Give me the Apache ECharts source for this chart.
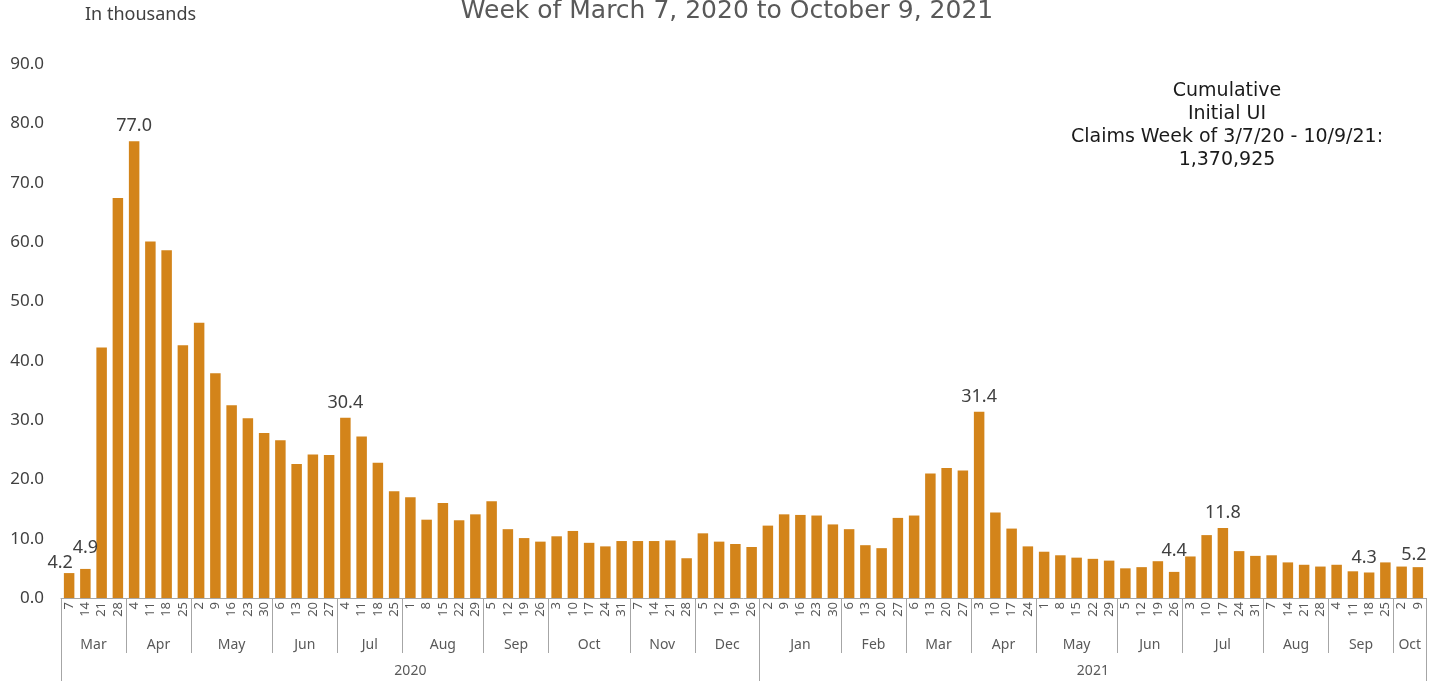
<!DOCTYPE html>
<html>
<head>
<meta charset="utf-8">
<script src="https://cdn.jsdelivr.net/npm/echarts@6/dist/echarts.min.js"></script>
<style>
html,body{margin:0;padding:0;background:#fff;}
#chart{width:1444px;height:681px;}
</style>
</head>
<body>
<div id="chart"></div>
<script>
// ---- Data ----
const titleText = 'Week of March 7, 2020 to October 9, 2021';
const unitText = 'In thousands';
const noteLines = ['Cumulative', 'Initial UI', 'Claims Week of 3/7/20 - 10/9/21:', '1,370,925'];

const years = ['2020', '2021'];
const monthsPerYear = [10, 10];
const monthNames = ['Mar','Apr','May','Jun','Jul','Aug','Sep','Oct','Nov','Dec',
                    'Jan','Feb','Mar','Apr','May','Jun','Jul','Aug','Sep','Oct'];
const weekDays = [
  [7,14,21,28],[4,11,18,25],[2,9,16,23,30],[6,13,20,27],[4,11,18,25],
  [1,8,15,22,29],[5,12,19,26],[3,10,17,24,31],[7,14,21,28],[5,12,19,26],
  [2,9,16,23,30],[6,13,20,27],[6,13,20,27],[3,10,17,24],[1,8,15,22,29],
  [5,12,19,26],[3,10,17,24,31],[7,14,21,28],[4,11,18,25],[2,9]
];
// Initial UI claims, thousands
const claims = [
  4.2, 4.9, 42.2, 67.4,
  77.0, 60.1, 58.6, 42.6,
  46.4, 37.9, 32.5, 30.3, 27.8,
  26.6, 22.6, 24.2, 24.1,
  30.4, 27.2, 22.8, 18.0,
  17.0, 13.2, 16.0, 13.1, 14.1,
  16.3, 11.6, 10.1, 9.5,
  10.4, 11.3, 9.3, 8.7, 9.6,
  9.6, 9.6, 9.7, 6.7,
  10.9, 9.5, 9.1, 8.6,
  12.2, 14.1, 14.0, 13.9, 12.4,
  11.6, 8.9, 8.4, 13.5,
  13.9, 21.0, 21.9, 21.5,
  31.4, 14.4, 11.7, 8.7,
  7.8, 7.2, 6.8, 6.6, 6.3,
  5.0, 5.2, 6.2, 4.4,
  7.0, 10.6, 11.8, 7.9, 7.1,
  7.2, 6.0, 5.6, 5.3,
  5.6, 4.5, 4.3, 6.0,
  5.3, 5.2
];
// weeks (index into claims) that carry a value label, with label nudges
const labeledWeeks = [0, 1, 4, 17, 56, 68, 71, 80, 83];
const labelNudges = {0: [-9, 5], 1: [0, -6], 68: [0, -6], 80: [-5, 0], 83: [-4, 3]};
const yTicks = [0, 10, 20, 30, 40, 50, 60, 70, 80, 90];

// ---- Derived axis tables ----
const FONT = '"Noto Sans", sans-serif';
const WIDE = '"DejaVu Sans", sans-serif';
const weekLabels = weekDays.flat().map(String);
const nWeeks = weekLabels.length;
// half-week position axes (boundaryGap false): index k sits at k/2 weeks
const nPts = nWeeks * 2 + 1;
const monthAxisData = new Array(nPts).fill('');
const monthBoundaries = new Set();
let s = 0;
weekDays.forEach((w, i) => {
  const e = s + w.length;
  monthBoundaries.add(2 * s); monthBoundaries.add(2 * e);
  monthAxisData[s + e] = monthNames[i];
  s = e;
});
const yearAxisData = new Array(nPts).fill('');
const yearBoundaries = new Set();
let ms = 0, ws = 0;
years.forEach((y, i) => {
  let we = ws;
  for (let m = ms; m < ms + monthsPerYear[i]; m++) we += weekDays[m].length;
  yearBoundaries.add(2 * ws); yearBoundaries.add(2 * we);
  yearAxisData[ws + we] = y;
  ms += monthsPerYear[i]; ws = we;
});

const barData = claims.map((v, i) => {
  if (labeledWeeks.indexOf(i) >= 0) {
    return {value: v, label: {show: true, offset: labelNudges[i] || [0, 0]}};
  }
  return v;
});

const chart = echarts.init(document.getElementById('chart'));
chart.setOption({
  animation: false,
  backgroundColor: '#ffffff',
  graphic: [
    {type: 'text', x: 727, y: 11,
     style: {text: titleText, textAlign: 'center', textVerticalAlign: 'middle', fill: '#595959',
             font: '25px ' + WIDE}},
    {type: 'text', x: 85, y: 15,
     style: {text: unitText, textAlign: 'left', textVerticalAlign: 'middle', fill: '#404040',
             font: '18px ' + FONT}},
    {type: 'text', x: 1227, y: 80,
     style: {text: noteLines.join('\n'), textAlign: 'center', fill: '#1a1a1a',
             font: '19px ' + WIDE, lineHeight: 23}}
  ],
  grid: {left: 61, right: 18, top: 64, bottom: 83, containLabel: false},
  xAxis: [
    {type: 'category', data: weekLabels, position: 'bottom',
     axisLine: {show: true, lineStyle: {color: '#a6a6a6', width: 1}},
     axisTick: {show: false},
     axisLabel: {interval: 0, rotate: 90, margin: 4, fontFamily: FONT, fontSize: 13, color: '#595959'}},
    {type: 'category', data: monthAxisData, boundaryGap: false, position: 'bottom',
     axisLine: {show: false},
     axisTick: {show: true, length: 55, interval: (i) => monthBoundaries.has(i),
                lineStyle: {color: '#a6a6a6', width: 1}},
     axisLabel: {interval: (i, v) => v !== '', margin: 40, fontFamily: FONT, fontSize: 14, color: '#595959'}},
    {type: 'category', data: yearAxisData, boundaryGap: false, position: 'bottom',
     axisLine: {show: false},
     axisTick: {show: true, length: 90, interval: (i) => yearBoundaries.has(i),
                lineStyle: {color: '#a6a6a6', width: 1}},
     axisLabel: {interval: (i, v) => v !== '', margin: 66, fontFamily: FONT, fontSize: 14, color: '#595959'}}
  ],
  yAxis: {
    type: 'value', min: yTicks[0], max: yTicks[yTicks.length - 1], interval: yTicks[1] - yTicks[0],
    axisLine: {show: false}, axisTick: {show: false}, splitLine: {show: false},
    axisLabel: {margin: 17, fontFamily: FONT, fontSize: 17, color: '#404040',
                formatter: (v) => v.toFixed(1)}
  },
  series: [{
    type: 'bar', xAxisIndex: 0, data: barData, barWidth: 10.5,
    itemStyle: {color: '#D3841A'},
    label: {show: false, position: 'top', distance: 6, fontFamily: FONT, fontSize: 18, color: '#404040',
            formatter: (p) => p.value.toFixed(1)}
  }]
});
</script>
</body>
</html>
